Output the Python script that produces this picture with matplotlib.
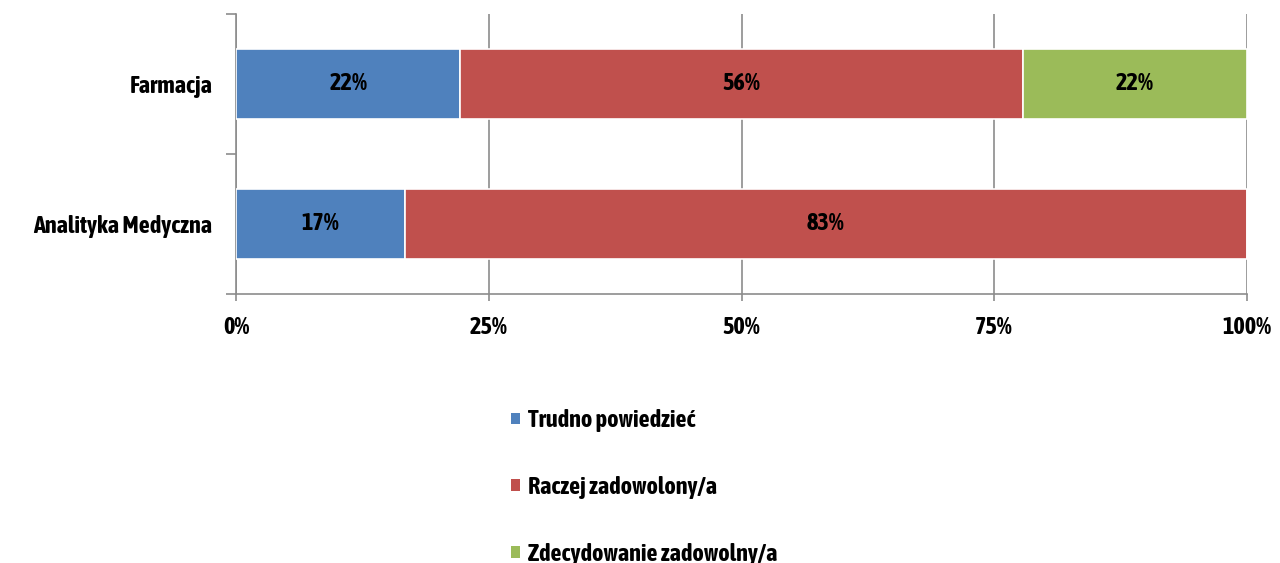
import matplotlib
matplotlib.use("Agg")
import matplotlib.pyplot as plt
import numpy as np
from matplotlib import font_manager
from matplotlib.patches import Patch


def weight_num(w):
    return w if isinstance(w, (int, float)) else font_manager.weight_dict.get(w, 400)


# pick a condensed face that has a bold cut, if one is installed
narrow = sorted({f.name for f in font_manager.fontManager.ttflist
                 if ('Narrow' in f.name or 'Condensed' in f.name) and weight_num(f.weight) >= 600})
family = (narrow[:1] if narrow else []) + ['DejaVu Sans']
plt.rcParams['font.family'] = family
plt.rcParams['font.weight'] = 'bold'

categories = ['Analityka Medyczna', 'Farmacja']
series_names = ['Trudno powiedzieć', 'Raczej zadowolony/a', 'Zdecydowanie zadowolny/a']
trudno = [16.7, 22.2]
raczej = [83.3, 55.6]
zdecyd = [0.0, 22.2]
colors = ['#4F81BD', '#C0504D', '#9BBB59']
xticks = [0, 25, 50, 75, 100]

font_size = 17.5 if narrow else 13
grid_col = '#8C8C8C'

fig = plt.figure(figsize=(12.8, 5.63), dpi=100)
ax = fig.add_axes([236 / 1280, 1 - 294 / 563, 1011 / 1280, 280 / 563])

ypos = np.arange(len(categories))
left = np.zeros(len(categories))
for vals, col in zip([trudno, raczej, zdecyd], colors):
    vals = np.array(vals)
    ax.barh(ypos, vals, left=left, height=0.5, color=col,
            edgecolor='white', linewidth=1.2, zorder=3)
    for y, v, l in zip(ypos, vals, left):
        if v > 0:
            ax.text(l + v / 2, y, f'{v:.0f}%', ha='center', va='center',
                    fontsize=font_size, fontweight='bold', color='black', zorder=4)
    left += vals

ax.set_xlim(0, 100)
ax.set_ylim(-0.5, 1.5)
ax.set_xticks(xticks)
ax.set_xticklabels([f'{t}%' for t in xticks], fontsize=font_size, fontweight='bold')
ax.set_yticks([-0.5, 0.5, 1.5])
ax.set_yticklabels([])
ax.set_yticks(ypos, minor=True)
ax.set_yticklabels(categories, minor=True, fontsize=font_size, fontweight='bold')
ax.tick_params(axis='y', which='minor', length=0, pad=17)
ax.tick_params(axis='y', which='major', length=7, color=grid_col, width=1.2)
ax.tick_params(axis='x', length=5, color=grid_col, width=1.2, pad=11)

ax.grid(axis='x', color=grid_col, linewidth=1.2, zorder=0)
for s in ['top', 'right']:
    ax.spines[s].set_visible(False)
for s in ['left', 'bottom']:
    ax.spines[s].set_color(grid_col)
    ax.spines[s].set_linewidth(1.2)

handles = [Patch(facecolor=c, edgecolor='none') for c in colors]
fig.legend(handles, series_names, loc='upper left', bbox_to_anchor=(511 / 1280, 1 - 409 / 563),
           frameon=False, prop={'weight': 'bold', 'size': font_size},
           borderpad=0, borderaxespad=0,
           handlelength=0.35, handleheight=0.35, handletextpad=0.35, labelspacing=1.8)

fig.savefig('out.png', dpi=100)
